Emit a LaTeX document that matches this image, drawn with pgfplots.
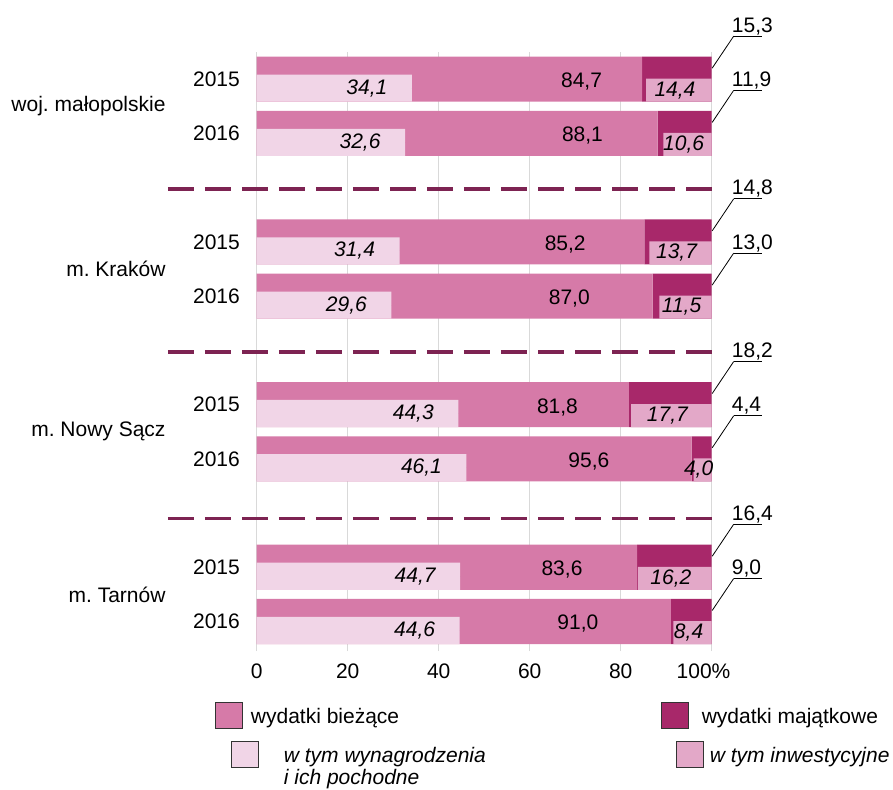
\documentclass[border=0pt]{standalone}
\usepackage{pgfplots}
\pgfplotsset{compat=1.18}
\usepackage{pgfplotstable}
\usepackage{fontspec}
\setmainfont{Liberation Sans}
\frenchspacing

\definecolor{cBiez}{HTML}{D67AA8}
\definecolor{cMaj}{HTML}{A8286A}
\definecolor{cWyn}{HTML}{F1D5E7}
\definecolor{cInw}{HTML}{E3A8C8}
\definecolor{cDash}{HTML}{7D2352}
\definecolor{cGrid}{HTML}{D9D9D9}

\newcommand{\fs}{\fontsize{21bp}{23.3bp}\selectfont}

\pgfplotstableread{
pos biez maj wyn inw labx
10 84.7 15.3 34.1 14.4 71.4
9 88.1 11.9 32.6 10.6 71.6
7 85.2 14.8 31.4 13.7 67.8
6 87.0 13.0 29.6 11.5 68.7
4 81.8 18.2 44.3 17.7 66.1
3 95.6 4.4 46.1 4.0 73.0
1 83.6 16.4 44.7 16.2 67.1
0 91.0 9.0 44.6 8.4 70.6
}\data

\pgfplotsset{
  base/.style={scale only axis, width=455bp, height=599bp,
    xmin=0, xmax=100, ymin=-0.544, ymax=10.5,
    at={(0bp,0bp)}, anchor=south west, clip=false},
  lgbox/.style={legend image code/.code={%
    \draw[##1, draw=black!80, line width=0.9bp] (0bp,-11.5bp) rectangle (27bp,14.5bp);}},
  lbl/.style={only marks, mark=*, mark size=0pt, mark options={draw=none, fill=none},
    point meta=explicit,
    nodes near coords={\pgfmathprintnumber[fixed, fixed zerofill, precision=1, use comma, assume math mode=true]{\pgfplotspointmeta}}},
}

\begin{document}
\begin{tikzpicture}

% main bars: current and capital expenditure
\begin{axis}[base, xbar stacked, bar width=0.83,
  axis line style={draw=none}, major tick length=0pt,
  xtick={0,20,40,60,80,100},
  xticklabels={0,20,40,60,80,{\makebox[0pt][r]{100}\makebox[0pt][l]{\%}}},
  xmajorgrids, grid style={cGrid, line width=1.5bp},
  ytick={10,9,7,6,4,3,1,0},
  yticklabels={2015,2016,2015,2016,2015,2016,2015,2016},
  ticklabel style={font=\fs},
  yticklabel style={inner sep=0pt, xshift=-16.7bp},
  xticklabel style={inner sep=0pt, yshift=-12.3bp},
  legend columns=2, legend cell align=left,
  legend style={at={(axis description cs:-0.0916,-0.0846)}, anchor=north west,
    draw=none, fill=none, inner sep=0pt, outer sep=0pt, font=\fs,
    nodes={inner sep=0pt}, column sep=0pt,
    /tikz/every odd column/.append style={column sep=8bp}},
]
\addplot[fill=cBiez, draw=none, lgbox] table[x=biez, y=pos]{\data};
\addlegendentry{\makebox[410bp][l]{wydatki bieżące}}
\addplot[fill=cMaj, draw=none, lgbox] table[x=maj, y=pos]{\data};
\addlegendentry{\hspace{5bp}wydatki majątkowe}
\end{axis}

% overlay bars: salaries and investment
\begin{axis}[base, xbar stacked, axis lines=none, xtick=\empty, ytick=\empty,
  legend columns=2, legend cell align=left,
  legend style={at={(axis description cs:-0.0565,-0.1505)}, anchor=north west,
    draw=none, fill=none, inner sep=0pt, outer sep=0pt, font=\fs,
    nodes={inner sep=0pt}, column sep=0pt,
    /tikz/every odd column/.append style={column sep=8bp}},
]
\addplot[fill=cWyn, draw=none, bar width=0.50, lgbox]
  table[x=wyn, y expr=\thisrow{pos}-0.166]{\data};
\addlegendentry{\hspace{17bp}\makebox[392bp][l]{\itshape\vtop{\baselineskip=22bp\hbox{w tym wynagrodzenia}\hbox{i ich pochodne}}}}
\addplot[draw=none, fill=none, bar width=0.424, forget plot]
  table[x expr=100-\thisrow{wyn}-\thisrow{inw}, y expr=\thisrow{pos}-0.203]{\data};
\addplot[fill=cInw, draw=none, bar width=0.424, lgbox]
  table[x=inw, y expr=\thisrow{pos}-0.203]{\data};
\addlegendentry{\hspace{-2bp}\itshape w tym inwestycyjne}
\end{axis}

% labels, separators, group names
\begin{axis}[base, axis lines=none, xtick=\empty, ytick=\empty]
\addplot[lbl, every node near coord/.append style={font=\fs, anchor=center, inner sep=0pt, yshift=-2.5bp}]
  table[x=labx, y=pos, meta=biez]{\data};
\addplot[lbl, every node near coord/.append style={font=\fs\itshape, anchor=center, inner sep=0pt, xshift=-45bp}]
  table[x=wyn, y expr=\thisrow{pos}-0.166, meta=wyn]{\data};
\addplot[lbl, every node near coord/.append style={font=\fs\itshape, anchor=center, inner sep=0pt, xshift=-4bp}]
  table[x expr=100-0.5*\thisrow{inw}, y expr=\thisrow{pos}-0.203, meta=inw]{\data};
\addplot[lbl, every node near coord/.append style={font=\fs, anchor=base west, inner sep=0pt,
    xshift=20bp, yshift=47bp,
    append after command={([shift={(2bp,-4bp)}]\tikzlastnode.base west) edge[draw=black, line width=0.8bp] ([shift={(30bp,-4bp)}]\tikzlastnode.base west)
      ([shift={(2bp,-4bp)}]\tikzlastnode.base west) edge[draw=black, line width=0.8bp] ([shift={(-19.5bp,-36bp)}]\tikzlastnode.base west)}}]
  table[x expr=\thisrow{biez}+\thisrow{maj}, y=pos, meta=maj]{\data};

\draw[cDash, line width=3.5bp, dash pattern=on 26bp off 11bp]
  ([xshift=-88.7bp]axis cs:0,7.97) -- (axis cs:100,7.97);
\draw[cDash, line width=3.5bp, dash pattern=on 26bp off 11bp]
  ([xshift=-88.7bp]axis cs:0,4.97) -- (axis cs:100,4.97);
\draw[cDash, line width=3.5bp, dash pattern=on 26bp off 11bp]
  ([xshift=-88.7bp]axis cs:0,1.9) -- (axis cs:100,1.9);
\node[anchor=east, font=\fs, inner sep=0pt] at ([xshift=-91bp]axis cs:0,9.5) {woj. małopolskie};
\node[anchor=east, font=\fs, inner sep=0pt] at ([xshift=-91bp]axis cs:0,6.5) {m. Kraków};
\node[anchor=east, font=\fs, inner sep=0pt] at ([xshift=-91bp]axis cs:0,3.5) {m. Nowy Sącz};
\node[anchor=east, font=\fs, inner sep=0pt] at ([xshift=-91bp]axis cs:0,0.5) {m. Tarnów};
\end{axis}

\pgfresetboundingbox
\path (-256.7bp,-139bp) rectangle (636.3bp,651bp);
\end{tikzpicture}
\end{document}
